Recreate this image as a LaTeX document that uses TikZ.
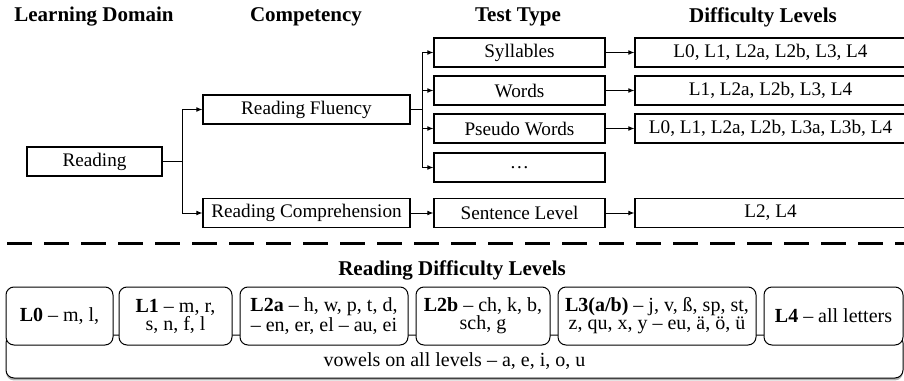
\documentclass[tikz,border=0pt]{standalone}
\usepackage{fontspec}
\setmainfont{Liberation Serif}
\usetikzlibrary{arrows.meta}
\usetikzlibrary{shadows}

\begin{document}
\begin{tikzpicture}[>={Latex[length=3pt,width=2.4pt]},x=0.5pt,y=-0.5pt,
  box/.style={draw,line width=0.6pt,minimum height=14.5pt,inner sep=0pt,font=\fontsize{9.6}{10}\selectfont},
  head/.style={font=\fontsize{10.5}{12}\selectfont\bfseries},
  lvlbox/.style={draw,fill=white,rounded corners=4pt,line width=0.5pt,align=center,minimum height=29pt,inner sep=0pt,font=\fontsize{10}{9}\selectfont},
  conn/.style={line width=0.5pt,->}]
\useasboundingbox (0,0) rectangle (904,380);
% headers
\node[head] (hdomain) at (94,17) {Learning Domain};
\node[head] (hcomp) at (306,17) {Competency};
\node[head] (htest) at (518,17) {Test Type};
\node[head] (hlevels) at (763,17) {Difficulty Levels};
% tree
\node[box,minimum width=67.5pt] (reading) at (94.5,161.5) {Reading};
\node[box,minimum width=103.5pt] (fluency) at (306.5,109.5) {Reading Fluency};
\node[box,minimum width=103.5pt] (comprehension) at (306.5,213) {Reading Comprehension};
\node[box,minimum width=85.5pt] (syllables) at (519.5,52.5) {Syllables};
\node[box,minimum width=85.5pt] (words) at (519.5,90.5) {Words};
\node[box,minimum width=85.5pt] (pseudo) at (519.5,128.5) {Pseudo Words};
\node[box,minimum width=85.5pt] (dots) at (519.5,167.5) {\dots};
\node[box,minimum width=85.5pt] (sentence) at (519.5,213) {Sentence Level};
\node[box,minimum width=135.5pt] (syllablesLvl) at (770.5,52.5) {L0, L1, L2a, L2b, L3, L4};
\node[box,minimum width=135.5pt] (wordsLvl) at (770.5,90.5) {L1, L2a, L2b, L3, L4};
\node[box,minimum width=135.5pt] (pseudoLvl) at (770.5,128.5) {L0, L1, L2a, L2b, L3a, L3b, L4};
\node[box,minimum width=135.5pt] (sentenceLvl) at (770.5,213) {L2, L4};
\coordinate (splitA) at (182,161.5);
\coordinate (splitB) at (422,109.5);
\draw[line width=0.5pt] (reading) -- (splitA);
\draw[conn] (splitA) |- (fluency.west);
\draw[conn] (splitA) |- (comprehension.west);
\draw[line width=0.8pt] (fluency) -- (splitB);
\draw[conn] (splitB) |- (syllables.west);
\draw[conn] (splitB) |- (words.west);
\draw[conn] (splitB) |- (pseudo.west);
\draw[conn] (splitB) |- (dots.west);
\draw[conn] (comprehension) -- (sentence);
\draw[conn] (syllables) -- (syllablesLvl);
\draw[conn] (words) -- (wordsLvl);
\draw[conn] (pseudo) -- (pseudoLvl);
\draw[conn] (sentence) -- (sentenceLvl);
% separator
\coordinate (sepL) at (7,243);
\coordinate (sepR) at (904,243);
\draw[line width=1.5pt,dash pattern=on 12.5pt off 6pt] (sepL) -- (sepR);
% reading difficulty levels
\node[head] (hreading) at (452,270) {Reading Difficulty Levels};
\draw[line width=0.5pt,rounded corners=4pt,fill=white,drop shadow={shadow xshift=0pt,shadow yshift=-1.2pt,fill=black!60}] (6,335) rectangle (903,378);
\node[font=\fontsize{10}{9}\selectfont] (vowels) at (454.5,361) {vowels on all levels – a, e, i, o, u};
\node[lvlbox,minimum width=53.5pt] (lzero) at (59.5,316) {\textbf{L0} – m, l,};
\node[lvlbox,minimum width=56.5pt] (lone) at (175.5,316) {\textbf{L1} – m, r,\\ s, n, f, l};
\node[lvlbox,minimum width=84pt] (ltwoa) at (324,316) {\textbf{L2a} – h, w, p, t, d,\\ – en, er, el – au, ei};
\node[lvlbox,minimum width=67pt] (ltwob) at (483,316) {\textbf{L2b} – ch, k, b,\\ sch, g};
\node[lvlbox,minimum width=99pt] (lthree) at (657,316) {\textbf{L3(a/b)} – j, v, ß, sp, st,\\ z, qu, x, y – eu, ä, ö, ü};
\node[lvlbox,minimum width=69.5pt] (lfour) at (833.5,316) {\textbf{L4} – all letters};
\end{tikzpicture}
\end{document}
